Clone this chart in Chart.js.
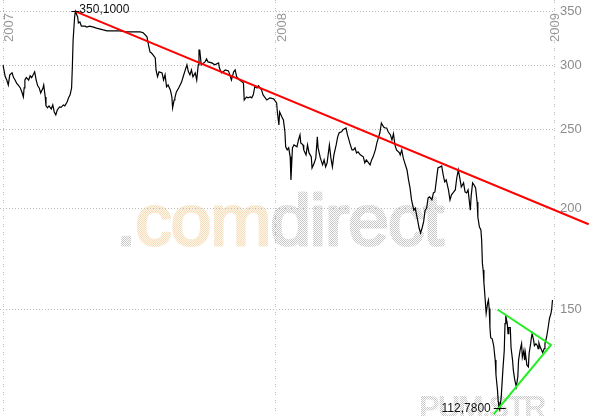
<!DOCTYPE html>
<html>
<head>
  <title>PUM.STR</title>
  <script src="https://cdn.jsdelivr.net/npm/chart.js"></script>
  <style>
    body { margin: 0; background: #fff; }
    canvas { display: block; }
  </style>
</head>
<body>
  <canvas id="chart" width="589" height="416"></canvas>

  <script>
    // x = days counted from the start of 2007, y = closing price
    const days = [0,3,5,7,9,12,14,16,18,20,23,25,27,28,29,31,34,36,38,40,
      42,44,46,48,50,53,54,56,57,59,61,64,66,68,70,72,75,77,80,82,
      85,87,89,91,92,93,95,96,99,100,102,104,109,111,115,120,124,129,133,138,
      146,155,164,173,182,186,191,193,195,197,199,202,203,205,207,211,213,215,217,219,
      222,224,225,227,228,230,233,235,237,239,241,244,246,248,250,252,255,257,259,260,
      261,263,268,270,272,277,281,286,287,290,295,299,301,303,306,308,310,314,317,319,
      320,323,325,328,330,332,334,337,339,341,343,345,350,354,359,363,364,366,367,370,
      372,374,375,377,379,381,382,384,386,390,392,394,395,398,399,402,404,406,409,410,
      413,415,417,418,421,424,426,428,430,433,435,437,439,442,444,446,449,451,455,457,
      459,460,463,465,467,469,471,474,478,480,482,485,487,489,491,494,496,498,500,502,
      505,507,509,511,514,516,518,520,522,526,527,529,531,533,536,538,540,542,545,547,
      548,550,552,554,556,558,560,562,564,566,569,571,573,575,577,580,582,584,586,588,
      591,593,595,597,600,602,604,606,608,611,613,615,617,620,621,623,625,627,629,630,
      632,634,635,636,637,638,639,641,643,644,645,646,647,649,651,653,654,656,657,658,
      659,661,663,665,666,667,669,670,671,673,674,676,677,679,681,683,684,686,688,689,
      691,692,693,695,697,698,700,701,702,704,705,707,709,710,711,713,716,718,719,721,
      723,725,727,728,729];
    const prices = [300.5,290.7,288,284,292.3,294,290,288,285.5,284,281.6,278.4,274.5,281.6,288,290,288,291.5,290,292.3,
      294.8,288,283.3,281.6,277.6,281.6,284,274.5,267.6,266.1,267.6,265.3,268.3,263,260.8,264.5,266.8,266.5,268.3,267.6,
      270.6,273.8,276.1,281.6,299.1,322.7,344.6,350.1,344.6,338.7,339.7,335.7,335.7,334.8,335.7,334.8,333.8,332.9,332.1,331.2,
      331.2,331.2,330.3,330.3,330.3,329.4,325.7,318.2,312,311,309.3,306.7,296.4,290.7,294.8,293.9,288,292.3,282.5,284,
      280,274.5,266.1,272.1,273.8,278.4,281.6,284,286.5,290.7,294.8,300.7,294.8,292.3,296.4,290.7,293.9,288,300.7,313.7,
      313.7,300.7,303.2,305.8,303.2,302.4,300.7,302.4,298.2,293.9,296.4,295.6,292.3,288,294.8,296.4,290.7,288,286.5,285.5,
      272.1,274.5,273.8,274.5,273.8,276.1,282.5,281.6,283.3,281.6,280,276.1,272.1,273.8,273,269.8,263,253.5,263,259.3,
      257.1,248.6,238.2,236.1,237.5,231.5,216.8,237.5,239.5,238.2,242.9,246.4,240.9,239.5,236.1,232.8,239.5,234.1,231.5,224.3,
      227.6,230.8,245,237.5,230.8,226.3,229.5,225,227.6,239.5,230.8,225,232.8,239.5,245,247.9,248.6,250,251.3,246.4,
      242.9,240.9,236.1,236.1,237.5,234.1,234.8,232.8,231.5,227.6,229.5,227.6,226.3,229.5,231.5,236.1,240.9,244.3,247.9,254.9,
      252,251.3,251.3,248.6,246.4,242.9,247.2,239.5,236.1,234.1,232.8,236.1,230.8,227.6,223,216.8,211.9,204.8,198.9,200,
      197.7,193.5,189.1,186.5,189.1,192.4,198.9,200,206,206.6,204.8,208.9,209.5,216.8,224.3,225,225.6,219.9,215.6,216.8,
      210.7,204.8,207.8,208.9,210.7,218,223,218,212.5,215,209.5,208.9,210.7,198.9,206.6,215,213.7,211.9,203.6,195,
      189.7,188.1,182.8,171,167.8,161.9,157.5,148.3,152.8,154.1,150.4,142.5,138.4,138,135.3,129.9,124.6,119.3,115.4,113.5,
      112.78,117,125.6,133.5,144.1,147.4,144.1,140,142.5,142.5,134.6,129.9,126.3,122.7,120.4,123.9,129.9,133.5,136.1,130.9,
      133.5,129.9,132.7,128.1,127.4,132.4,136.1,138.4,140,137.4,135.3,136.1,135.3,134.2,136.4,134.6,132.7,134.2,136.1,138.4,
      142,146.2,148.3,150.4,154.1];

    const yearDays = [0, 362, 731];
    const yearLabels = ['2007', '2008', '2009'];
    const yTicks = [150, 200, 250, 300, 350];

    // drawn trend lines
    const trendDays = [96, 777];
    const trendPrices = [350.1, 191.1];
    const triangleDays = [656, 727, 651];
    const trianglePrices = [150, 135.6, 111.4];

    const watermark = ['.', 'com', 'direct'];
    const symbol = 'PUM.STR';

    const font = '"Liberation Sans", Arial, sans-serif';

    function toPoints(xs, ys) {
      return xs.map((x, i) => ({ x: x, y: ys[i] }));
    }

    // small checkerboard fill, like the dotted logo in the picture
    function dots(ctx, a, b) {
      const c = document.createElement('canvas');
      c.width = 2;
      c.height = 2;
      const g = c.getContext('2d');
      if (b) {
        g.fillStyle = b;
        g.fillRect(0, 0, 2, 2);
      }
      g.fillStyle = a;
      g.fillRect(0, 0, 1, 1);
      g.fillRect(1, 1, 1, 1);
      return ctx.createPattern(c, 'repeat');
    }

    function comma(v) {
      return v.toFixed(4).replace('.', ',');
    }

    const backdrop = {
      id: 'backdrop',
      beforeDraw(chart) {
        const ctx = chart.ctx;
        const grey = dots(ctx, '#c8c8c8');
        const yellow = dots(ctx, '#f4dcc8', '#fff8dc');
        ctx.save();
        ctx.fillStyle = '#fff';
        ctx.fillRect(0, 0, chart.width, chart.height);

        ctx.font = '73px ' + font;
        ctx.letterSpacing = '-1px';
        ctx.textBaseline = 'alphabetic';
        ctx.lineWidth = 3;
        ctx.lineJoin = 'round';
        let x = 116;
        watermark.forEach((part, i) => {
          const p = i === 1 ? yellow : grey;
          ctx.fillStyle = p;
          ctx.strokeStyle = p;
          ctx.fillText(part, x, 245);
          ctx.strokeText(part, x, 245);
          x += ctx.measureText(part).width;
        });

        ctx.font = 'bold 31px ' + font;
        ctx.letterSpacing = '-2px';
        ctx.fillStyle = grey;
        ctx.fillText(symbol, 419, 418);
        ctx.restore();
      }
    };

    const labels = {
      id: 'labels',
      beforeDatasetsDraw(chart) {
        const ctx = chart.ctx;
        const xs = chart.scales.x;
        const area = chart.chartArea;
        ctx.save();
        ctx.font = '13px ' + font;
        ctx.fillStyle = '#999';
        ctx.textAlign = 'right';
        ctx.textBaseline = 'alphabetic';
        yearDays.forEach((d, i) => {
          const px = Math.min(xs.getPixelForValue(d) + 10, area.right + 5);
          ctx.save();
          ctx.translate(px, 13);
          ctx.rotate(-Math.PI / 2);
          ctx.fillText(yearLabels[i], 0, 0);
          ctx.restore();
        });
        ctx.restore();
      },
      afterDatasetsDraw(chart) {
        const ctx = chart.ctx;
        const xs = chart.scales.x;
        const ys = chart.scales.y;
        const hi = prices.indexOf(Math.max(...prices));
        const lo = prices.indexOf(Math.min(...prices));
        ctx.save();
        ctx.font = '12px ' + font;
        ctx.fillStyle = '#111';
        ctx.strokeStyle = '#000';
        ctx.lineWidth = 1;
        ctx.textBaseline = 'middle';

        let px = xs.getPixelForValue(days[hi]);
        let py = Math.round(ys.getPixelForValue(prices[hi])) + 0.5;
        ctx.beginPath();
        ctx.moveTo(px - 4, py);
        ctx.lineTo(px + 4, py);
        ctx.stroke();
        ctx.textAlign = 'left';
        ctx.fillText(comma(prices[hi]), px + 4, py - 2);

        px = xs.getPixelForValue(days[lo]);
        py = Math.round(ys.getPixelForValue(prices[lo])) - 1.5;
        ctx.beginPath();
        ctx.moveTo(px - 6, py);
        ctx.lineTo(px + 6, py);
        ctx.stroke();
        ctx.textAlign = 'right';
        ctx.fillText(comma(prices[lo]), px - 9, py);
        ctx.restore();
      }
    };

    new Chart(document.getElementById('chart'), {
      type: 'line',
      data: {
        datasets: [
          {
            data: toPoints(days, prices),
            borderColor: '#000',
            borderWidth: 1.2,
            pointRadius: 0,
            order: 3
          },
          {
            data: toPoints(trendDays, trendPrices),
            borderColor: '#ff0000',
            borderWidth: 2,
            pointRadius: 0,
            clip: false,
            order: 1
          },
          {
            data: toPoints(triangleDays, trianglePrices),
            borderColor: '#22ee22',
            borderWidth: 2,
            pointRadius: 0,
            clip: false,
            order: 2
          }
        ]
      },
      options: {
        responsive: false,
        animation: false,
        layout: { padding: 0 },
        plugins: {
          legend: { display: false },
          tooltip: { enabled: false }
        },
        scales: {
          x: {
            type: 'linear',
            min: -4,
            max: 731,
            afterBuildTicks: s => { s.ticks = yearDays.map(v => ({ value: v })); },
            ticks: { display: false },
            grid: { color: '#bdbdbd', drawTicks: false },
            border: { display: false, dash: [1, 1, 1, 5] }
          },
          y: {
            type: 'logarithmic',
            position: 'right',
            min: 110.8,
            max: 361.6,
            afterBuildTicks: s => { s.ticks = yTicks.map(v => ({ value: v })); },
            afterFit: s => {
              s.width = 35;
              s.paddingTop = 0;
              s.paddingBottom = 0;
            },
            ticks: {
              callback: v => String(v),
              color: '#8c8c8c',
              padding: 6,
              font: { family: font, size: 13 }
            },
            grid: { color: '#bdbdbd', drawTicks: false },
            border: { display: false, dash: [1, 2] }
          }
        }
      },
      plugins: [backdrop, labels]
    });
  </script>
</body>
</html>
